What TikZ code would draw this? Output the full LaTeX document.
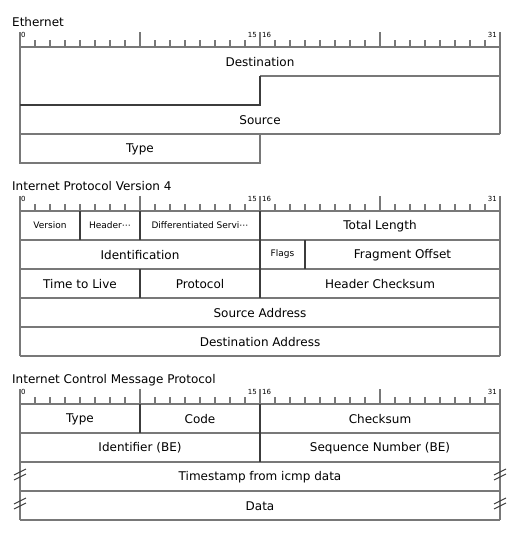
\documentclass[tikz,border=0pt]{standalone}
\usepackage{fontspec}
\setmainfont{DejaVu Sans}
\newcommand\pktruler[2]{%
  \draw[gl] (20,#1) -- (500,#1);
  \foreach \k in {1,...,31}{%
    \pgfmathtruncatemacro\m{mod(\k,8)}%
    \ifnum\m=0
      \draw[gl] (20+15*\k,#1) -- (20+15*\k,#1-15);
    \else
      \draw[gl] (20+15*\k,#1) -- (20+15*\k,#1-7);
    \fi}%
  \draw[gl] (20,#1) -- (20,#1-15);
  \draw[gl] (500,#1) -- (500,#1-15);
  \node[digit,anchor=west] (#2z) at (21,#1-12) {0};
  \node[digit,anchor=east] (#2a) at (257,#1-12) {15};
  \node[digit,anchor=west] (#2b) at (262,#1-12) {16};
  \node[digit,anchor=east] (#2c) at (497,#1-12) {31};
}
\begin{document}
\begin{tikzpicture}[x=1pt,y=-1pt,
  gl/.style={draw={rgb,255:red,120;green,120;blue,120},line width=1.6pt},
  dl/.style={draw={rgb,255:red,60;green,60;blue,60},line width=1.6pt},
  bm/.style={draw={rgb,255:red,60;green,60;blue,60},line width=1pt},
  lab/.style={font=\fontsize{12}{14}\selectfont,inner sep=0pt},
  sm/.style={font=\fontsize{9}{10}\selectfont,inner sep=0pt},
  ttl/.style={font=\fontsize{12}{14}\selectfont,inner sep=0pt,anchor=west},
  digit/.style={font=\fontsize{7}{8}\selectfont,inner sep=0pt}]
\useasboundingbox (0,0) rectangle (517,534);

% ---------------- Ethernet ----------------
\node[ttl] (t1) at (12,22) {Ethernet};
\pktruler{47}{e}
\draw[gl] (20,47) -- (20,163) -- (260,163) -- (260,134);
\draw[gl] (500,47) -- (500,134);
\draw[gl] (260,76) -- (500,76);
\draw[dl] (20,105) -- (260,105) -- (260,76);
\draw[gl] (20,134) -- (500,134);
\node[lab] (edst) at (260,62) {Destination};
\node[lab] (esrc) at (260,120) {Source};
\node[lab] (etyp) at (140,149) {Type};

% ---------------- IPv4 ----------------
\node[ttl] (t2) at (12,186) {Internet Protocol Version 4};
\pktruler{211}{i}
\draw[gl] (20,211) -- (20,356);
\draw[gl] (500,211) -- (500,356);
\foreach \y in {240,269,298,327,356} \draw[gl] (20,\y) -- (500,\y);
\draw[dl] (80,211) -- (80,240);
\draw[dl] (140,211) -- (140,240);
\draw[dl] (260,211) -- (260,298);
\draw[dl] (305,240) -- (305,269);
\draw[dl] (140,269) -- (140,298);
\node[sm] (iver) at (50,225.5) {Version};
\node[sm] (ihl) at (110,225.5) {Header⋯};
\node[sm] (idsf) at (200,225.5) {Differentiated Servi⋯};
\node[lab] (itl) at (380,226) {Total Length};
\node[lab] (iid) at (140,255) {Identification};
\node[sm] (ifl) at (282.5,254.5) {Flags};
\node[lab] (ifo) at (402.5,255) {Fragment Offset};
\node[lab] (ittl) at (80,284) {Time to Live};
\node[lab] (ipro) at (200,284) {Protocol};
\node[lab] (ichk) at (380,284) {Header Checksum};
\node[lab] (isrc) at (260,313) {Source Address};
\node[lab] (idst) at (260,342) {Destination Address};

% ---------------- ICMP ----------------
\node[ttl] (t3) at (12,380) {Internet Control Message Protocol};
\pktruler{404}{c}
\draw[gl] (20,404) -- (20,520);
\draw[gl] (500,404) -- (500,520);
\foreach \y in {433,462,491,520} \draw[gl] (20,\y) -- (500,\y);
\draw[dl] (140,404) -- (140,433);
\draw[dl] (260,404) -- (260,462);
\node[lab] (ctyp) at (80,419) {Type};
\node[lab] (ccod) at (200,419) {Code};
\node[lab] (cchk) at (380,419) {Checksum};
\node[lab] (cid) at (140,448) {Identifier (BE)};
\node[lab] (cseq) at (380,448) {Sequence Number (BE)};
\node[lab] (cts) at (260,477) {Timestamp from icmp data};
\node[lab] (cdat) at (260,506) {Data};
\foreach \xx in {20,500}{
  \foreach \yy in {472,477,501,506}{
    \draw[bm] (\xx-6,\yy+3) -- (\xx+6,\yy-3);
  }
}
\end{tikzpicture}
\end{document}
